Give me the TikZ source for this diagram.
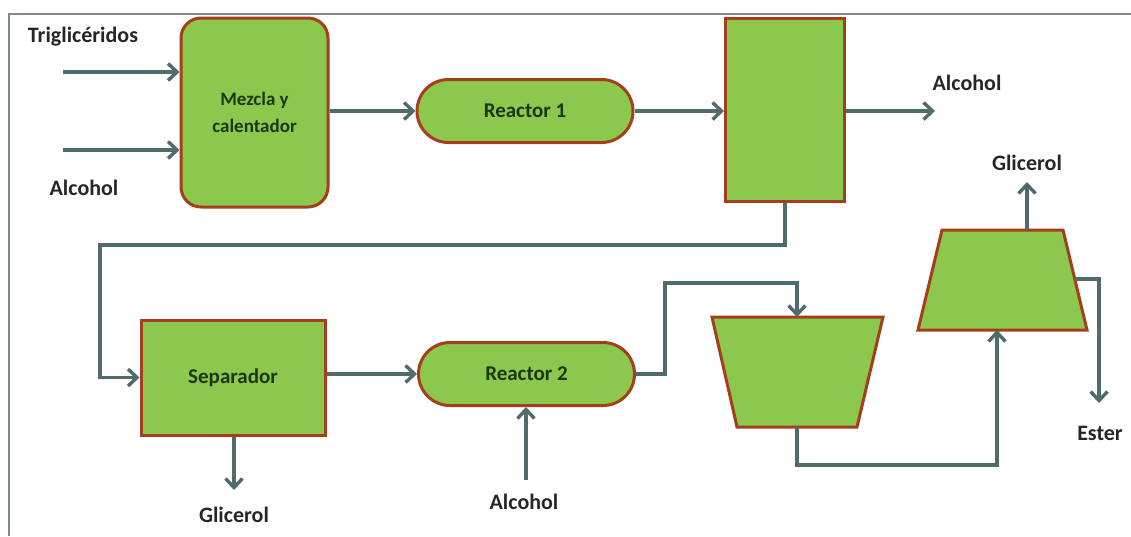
\documentclass[tikz,border=0pt]{standalone}
\usepackage{fontspec}
\setmainfont{Carlito}
\usetikzlibrary{arrows.meta,shapes.misc,positioning,calc}

\definecolor{verde}{RGB}{141,200,78}
\definecolor{borde}{RGB}{165,62,28}
\definecolor{flecha}{RGB}{79,107,106}
\definecolor{marco}{RGB}{127,138,148}
\definecolor{letra}{RGB}{38,38,38}
\definecolor{letracaja}{RGB}{28,56,18}

\tikzset{
  equipo/.style={draw=borde, fill=verde, line width=3pt, inner sep=0pt,
    text=letracaja, font=\bfseries\fontsize{21}{26}\selectfont, align=center},
  caja/.style={equipo, rectangle},
  reactor/.style={equipo, rounded rectangle, minimum width=216pt, minimum height=63pt},
  tolva/.style={draw=borde, fill=verde, line width=3pt, line join=miter},
  flujo/.style={draw=flecha, line width=3.4pt, -{Straight Barb[length=9pt,width=17pt]}},
  etiqueta/.style={text=letra, font=\bfseries\fontsize{22}{26}\selectfont},
}

\begin{document}
\begin{tikzpicture}[x=1pt,y=-1pt]
\useasboundingbox (0,0) rectangle (1131,536);
% marco
\draw[marco, line width=2pt] (9,536) -- (9,14) -- (1131,14);

% equipos
\node[caja, rounded corners=20pt, minimum width=147pt, minimum height=189pt,
  font=\bfseries\fontsize{19}{27}\selectfont] (mezcla) at (254.5,112.5) {Mezcla y\\calentador};
\node[reactor] (reactor1) at (525,111) {Reactor 1};
\node[caja, minimum width=119pt, minimum height=183pt] (columna) at (785,110) {};
\node[caja, minimum width=184pt, minimum height=115pt] (separador) at (233,377.5) {Separador};
\node[reactor] (reactor2) at (526.5,374) {Reactor 2};

% decantador y lavado (trapecios)
\draw[tolva] (712,317) -- (883,317) -- (857,427) -- (737,427) -- cycle;
\draw[tolva] (942,230) -- (1063,230) -- (1087,330) -- (918,330) -- cycle;
\coordinate (dec-n) at (797,317);
\coordinate (dec-s) at (797,427);
\coordinate (lav-n) at (1027,230);
\coordinate (lav-s) at (997,330);
\coordinate (lav-e) at (1075,279);

% corrientes
\node[etiqueta] (trig) at (83,37) {Triglicéridos};
\node[etiqueta] (alc1) at (84,188) {Alcohol};
\node[etiqueta] (alc2) at (967,83) {Alcohol};
\node[etiqueta] (glic1) at (234,515) {Glicerol};
\node[etiqueta] (alc3) at (524,502) {Alcohol};
\node[etiqueta] (glic2) at (1027,163) {Glicerol};
\node[etiqueta] (ester) at (1100,433) {Ester};

\coordinate (e1) at (63,72);
\coordinate (e2) at (63,150);
\coordinate (s1) at (935,111);
\coordinate (ret) at (100,245);
\coordinate (s2) at (234,490);
\coordinate (e3) at (526,480);
\coordinate (sube) at (665,283);
\coordinate (baja) at (997,465);
\coordinate (s3) at (1027,182);
\coordinate (s4) at (1099,403);

\draw[flujo] (e1) -- (e1 -| mezcla.west);
\draw[flujo] (e2) -- (e2 -| mezcla.west);
\draw[flujo] (mezcla.east |- reactor1) -- (reactor1.west);
\draw[flujo] (reactor1.east) -- (reactor1 -| columna.west);
\draw[flujo] (columna.east |- s1) -- (s1);
\draw[flujo] (columna.south) |- (ret) |- (separador.west);
\draw[flujo] (separador.south -| s2) -- (s2);
\draw[flujo] (separador.east |- reactor2) -- (reactor2.west);
\draw[flujo] (e3) -- (e3 |- reactor2.south);
\draw[flujo] (reactor2.east) -| (sube) -| (dec-n);
\draw[flujo] (dec-s) |- (baja) -- (lav-s);
\draw[flujo] (lav-n) -- (s3);
\draw[flujo] (lav-e) -| (s4);
\end{tikzpicture}
\end{document}
